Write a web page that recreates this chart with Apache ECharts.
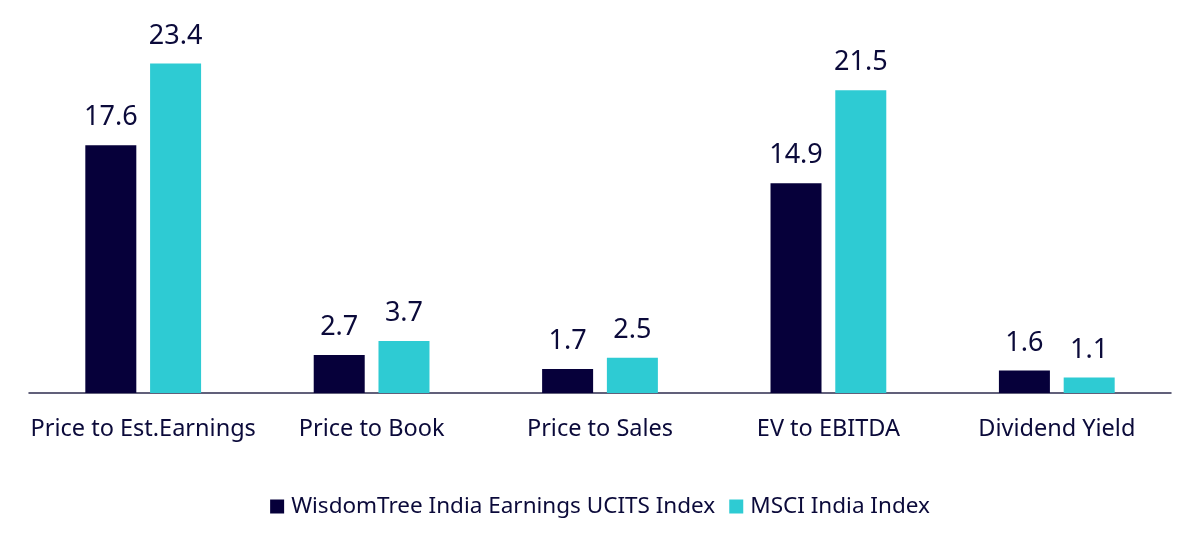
<!DOCTYPE html>
<html>
<head>
<meta charset="utf-8">
<script src="https://cdn.jsdelivr.net/npm/echarts@6/dist/echarts.min.js"></script>
<style>
  html, body { margin: 0; padding: 0; background: #fff; }
  #chart { width: 1200px; height: 545px; }
</style>
</head>
<body>
<div id="chart"></div>
<script>
var categories = ['Price to Est.Earnings', 'Price to Book', 'Price to Sales', 'EV to EBITDA', 'Dividend Yield'];
var wisdomTree = [17.6, 2.7, 1.7, 14.9, 1.6];
var msciIndia = [23.4, 3.7, 2.5, 21.5, 1.1];

var textColor = '#0b0a3a';
var chart = echarts.init(document.getElementById('chart'));

var valueLabel = {
    show: true,
    position: 'top',
    distance: 14,
    color: textColor,
    fontSize: 27,
    fontFamily: 'Noto Sans',
    formatter: function (p) { return p.value.toFixed(1); }
};

var options = {
    animation: false,
    legend: {
        data: ['WisdomTree India Earnings UCITS Index', 'MSCI India Index'],
        left: 'center',
        top: 490,
        icon: 'rect',
        itemWidth: 14,
        itemHeight: 14,
        itemGap: 14,
        textStyle: {
            color: textColor,
            fontSize: 22.5,
            fontFamily: 'Noto Sans',
            padding: [0, 0, 0, 2]
        }
    },
    grid: {
        left: 29,
        right: 29,
        top: 41,
        bottom: 152,
        containLabel: false
    },
    xAxis: {
        type: 'category',
        data: categories,
        axisTick: { show: false },
        axisLine: { lineStyle: { color: '#2e2d4f', width: 1.5 } },
        axisLabel: {
            color: textColor,
            fontSize: 23.5,
            fontFamily: 'Noto Sans',
            margin: 24,
            interval: 0
        }
    },
    yAxis: {
        type: 'value',
        min: 0,
        max: 25,
        show: false,
        splitLine: { show: false }
    },
    color: ['#06003a', '#2ecbd3'],
    series: [
        {
            name: 'WisdomTree India Earnings UCITS Index',
            type: 'bar',
            data: wisdomTree,
            barWidth: 51,
            barGap: '27%',
            label: valueLabel
        },
        {
            name: 'MSCI India Index',
            type: 'bar',
            data: msciIndia,
            barWidth: 51,
            barGap: '27%',
            label: valueLabel
        }
    ]
};

chart.setOption(options);
</script>
</body>
</html>
